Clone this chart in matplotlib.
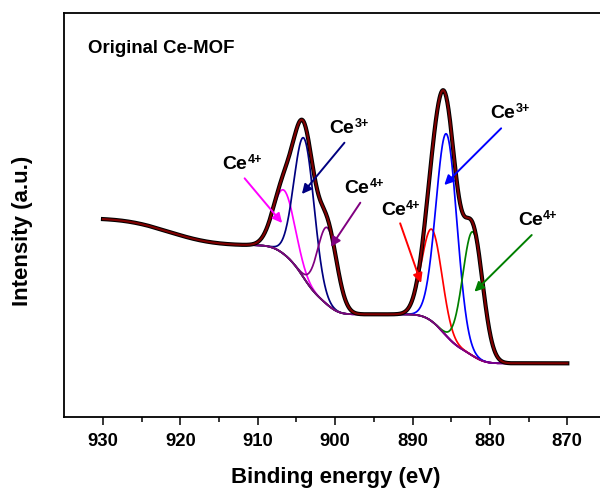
import numpy as np
import matplotlib
matplotlib.use("Agg")
import matplotlib.pyplot as plt

plt.rcParams['font.family'] = ['Liberation Sans', 'DejaVu Sans']
plt.rcParams['font.weight'] = 'bold'

# ---- data (Ce 3d XPS, arbitrary intensity units) ----
peak_centers = [906.6, 904.0, 901.0, 887.5, 885.6, 882.2]      # eV
peak_heights = [64, 140, 77, 92, 202, 124]                      # a.u. above background
peak_sigmas = [1.4, 1.3, 1.25, 1.3, 1.35, 1.3]                  # eV
peak_groups = [1, 1, 1, 0, 0, 0]                                # 0: 3d5/2, 1: 3d3/2
peak_colors = ['#FF00FF', '#000080', '#800080', '#FF0000', '#0000FF', '#008000']

bg_low = 54             # background below 878 eV
group_steps = [49, 69]  # Shirley steps of the 3d5/2 and 3d3/2 groups
tail_step = 27          # high-energy loss tail step
tail_center = 921.5
tail_width = 4.5

energy_range = (870, 930)

label_base = ['Ce', 'Ce', 'Ce', 'Ce', 'Ce', 'Ce']
label_sup = ['4+', '3+', '4+', '4+', '3+', '4+']
label_xy = [(914.6, 248.3), (900.8, 284.3), (898.8, 224.3),
            (894.1, 202.3), (880.0, 299.3), (876.4, 192.3)]
arrow_tail = [(911.7, 239.0), (898.8, 274.6), (896.75, 214.6),
              (891.6, 194.0), (878.55, 289.0), (874.6, 182.3)]
arrow_head = [(906.85, 194.3), (904.3, 223.3), (900.55, 170.6),
              (888.9, 134.3), (885.9, 232.3), (882.0, 125.6)]

# ---- model curves from the read parameters ----
E = np.linspace(energy_range[0], energy_range[1], 1201)   # increasing energy
gauss = [h * np.exp(-0.5 * ((E - c) / s) ** 2)
         for c, h, s in zip(peak_centers, peak_heights, peak_sigmas)]

bg = np.full_like(E, float(bg_low))
dE = E[1] - E[0]
for g, step in enumerate(group_steps):
    gsum = sum(gauss[i] for i in range(len(gauss)) if peak_groups[i] == g)
    cum = np.cumsum(gsum) * dE
    bg += step * cum / cum[-1]
tail = np.exp(-0.5 * ((E - tail_center) / tail_width) ** 2)
tail_cum = np.cumsum(tail) * dE
bg += tail_step * tail_cum / (tail_width * np.sqrt(2 * np.pi))

envelope = bg + sum(gauss)

# ---- figure ----
fig = plt.figure(figsize=(6.0, 4.93), dpi=100)
ax = fig.add_axes([0.1072, 0.1535, 0.9028, 0.8195])

for g, col in zip(gauss, peak_colors):
    ax.plot(E, bg + g, color=col, lw=1.25, zorder=2)
ax.plot(E, bg, color='#800080', lw=1.25, zorder=3)
ax.plot(E, envelope, color='black', lw=3.0, zorder=4)
ax.plot(E, envelope, color='#800000', lw=1.5, zorder=5)

for base, sup, (tx, ty), tl, hd, col in zip(label_base, label_sup, label_xy,
                                             arrow_tail, arrow_head, peak_colors):
    ax.text(tx, ty, base, fontsize=14, fontweight='bold', ha='left', va='baseline', zorder=6)
    ax.annotate(sup, xy=(tx, ty), xytext=(18.3, 4.0), textcoords='offset points',
                fontsize=9, fontweight='bold', ha='left', va='baseline', zorder=6)
    ax.annotate('', xy=hd, xytext=tl,
                arrowprops=dict(arrowstyle='-|>', color=col, lw=1.4,
                                mutation_scale=14, shrinkA=0, shrinkB=0),
                zorder=6)

ax.text(0.0437, 0.9025, 'Original Ce-MOF', transform=ax.transAxes,
        fontsize=13.4, fontweight='bold', ha='left', va='baseline')

ax.set_xlim(935, 865)
ax.set_ylim(0, 404)
ax.set_xticks([930, 920, 910, 900, 890, 880, 870])
ax.set_xticks([925, 915, 905, 895, 885, 875], minor=True)
ax.set_yticks([])
ax.tick_params(axis='x', which='major', direction='out', length=5.5, width=1.1,
               labelsize=13.3, pad=5.5)
ax.tick_params(axis='x', which='minor', direction='out', length=3.5, width=1.1)
for lbl in ax.get_xticklabels():
    lbl.set_fontweight('bold')
for sp in ax.spines.values():
    sp.set_linewidth(1.3)

ax.set_xlabel('Binding energy (eV)', fontsize=16, fontweight='bold')
ax.xaxis.set_label_coords(0.501, -0.150)
ax.xaxis.label.set_va('center')
ax.set_ylabel('Intensity (a.u.)', fontsize=16, fontweight='bold')
ax.yaxis.set_label_coords(-0.078, 0.461)
ax.yaxis.label.set_va('center')

fig.savefig('out.png', dpi=100)
